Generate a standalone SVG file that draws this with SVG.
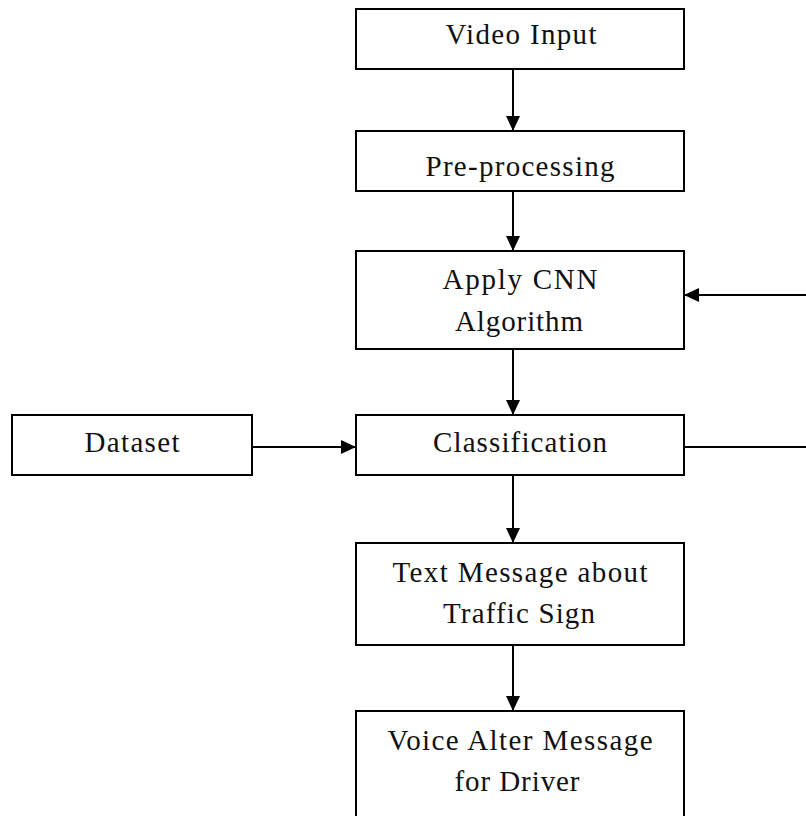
<svg xmlns="http://www.w3.org/2000/svg" width="806" height="816" viewBox="0 0 806 816">
<style>
.box{fill:#fff;stroke:#000;stroke-width:2}
.lbl{font-size:29px;fill:#111;text-anchor:middle}
.conn{stroke:#000;stroke-width:2;fill:none}
</style>
<defs>
<marker id="ah" markerUnits="userSpaceOnUse" markerWidth="15" markerHeight="14" refX="15" refY="7" orient="auto">
<path d="M0,0 L15,7 L0,14 z" fill="#000"/>
</marker>
</defs>
<rect width="806" height="816" fill="#fff"/>
<g id="connectors">
<line class="conn" x1="513" y1="69" x2="513" y2="131" marker-end="url(#ah)"/>
<line class="conn" x1="513" y1="191" x2="513" y2="251" marker-end="url(#ah)"/>
<line class="conn" x1="513" y1="349" x2="513" y2="415" marker-end="url(#ah)"/>
<line class="conn" x1="513" y1="475" x2="513" y2="543" marker-end="url(#ah)"/>
<line class="conn" x1="513" y1="645" x2="513" y2="711" marker-end="url(#ah)"/>
<line class="conn" x1="252" y1="447" x2="356" y2="447" marker-end="url(#ah)"/>
<line class="conn" x1="806" y1="295" x2="684" y2="295" marker-end="url(#ah)"/>
<line class="conn" x1="684" y1="447" x2="806" y2="447"/>
</g>
<g font-family="Liberation Serif, DejaVu Serif, serif">
<g id="video-input">
<rect class="box" x="356" y="9" width="328" height="60"/>
<text class="lbl" x="521" y="44" textLength="151" lengthAdjust="spacing">Video Input</text>
</g>
<g id="pre-processing">
<rect class="box" x="356" y="131" width="328" height="60"/>
<text class="lbl" x="520" y="176" textLength="189" lengthAdjust="spacing">Pre-processing</text>
</g>
<g id="apply-cnn">
<rect class="box" x="356" y="251" width="328" height="98"/>
<text class="lbl" x="520" y="289" textLength="155" lengthAdjust="spacing">Apply CNN</text>
<text class="lbl" x="519" y="331" textLength="128" lengthAdjust="spacing">Algorithm</text>
</g>
<g id="dataset">
<rect class="box" x="12" y="415" width="240" height="60"/>
<text class="lbl" x="132" y="452" textLength="95" lengthAdjust="spacing">Dataset</text>
</g>
<g id="classification">
<rect class="box" x="356" y="415" width="328" height="60"/>
<text class="lbl" x="520" y="452" textLength="174" lengthAdjust="spacing">Classification</text>
</g>
<g id="text-message">
<rect class="box" x="356" y="543" width="328" height="102"/>
<text class="lbl" x="520" y="582" textLength="255" lengthAdjust="spacing">Text Message about</text>
<text class="lbl" x="519" y="623" textLength="152" lengthAdjust="spacing">Traffic Sign</text>
</g>
<g id="voice-alert">
<rect class="box" x="356" y="711" width="328" height="112"/>
<text class="lbl" x="520" y="750" textLength="265" lengthAdjust="spacing">Voice Alter Message</text>
<text class="lbl" x="517" y="791" textLength="125" lengthAdjust="spacing">for Driver</text>
</g>
</g>
</svg>
